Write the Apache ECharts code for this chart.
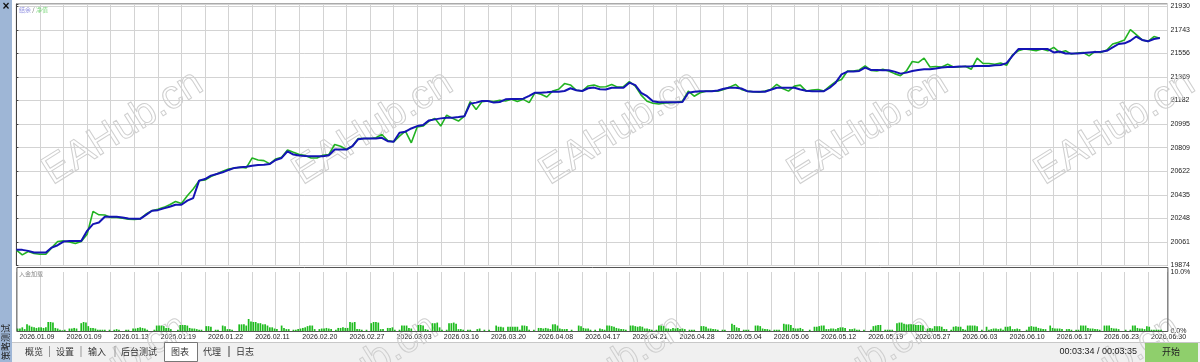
<!DOCTYPE html>
<html><head><meta charset="utf-8">
<script src="https://cdn.jsdelivr.net/npm/echarts@6/dist/echarts.min.js"></script>
<style>html,body{margin:0;padding:0;background:#fff;}#c{width:1200px;height:362px;}</style>
</head><body><div id="c"></div>
<script>
// ---- data ----
const axisMin = 19874;
const axisMax = 21930;
const dateLabels = ['2026.01.09','2026.01.09','2026.01.13','2026.01.19','2026.01.22','2026.02.11','2026.02.20','2026.02.27','2026.03.03','2026.03.16','2026.03.20','2026.04.08','2026.04.17','2026.04.21','2026.04.28','2026.05.04','2026.05.06','2026.05.12','2026.05.19','2026.05.27','2026.06.03','2026.06.10','2026.06.17','2026.06.23','2026.06.30'];
const balance = [
19998,19998,19990,19977,19977,19977,20016,20035,20064,20069,20069,20069,20149,20202,20215,20260,20260,20260,20255,20247,
20244,20244,20276,20308,20313,20327,20340,20356,20356,20388,20409,20547,20560,20587,20600,20613,20632,20648,20653,20658,
20666,20672,20674,20680,20711,20727,20780,20754,20746,20743,20741,20741,20741,20749,20794,20794,20794,20820,20876,20881,
20881,20881,20887,20860,20855,20927,20935,20961,20980,20988,21025,21033,21041,21046,21046,21051,21057,21158,21166,21179,
21179,21166,21171,21192,21195,21195,21197,21219,21245,21245,21248,21253,21253,21258,21280,21264,21258,21280,21285,21272,
21270,21284,21284,21284,21324,21305,21244,21217,21177,21169,21169,21169,21169,21171,21244,21252,21257,21257,21257,21262,
21276,21284,21284,21278,21257,21252,21252,21252,21268,21284,21284,21284,21284,21270,21260,21257,21257,21257,21284,21324,
21390,21412,21412,21417,21444,21425,21425,21422,21422,21412,21396,21404,21417,21425,21430,21430,21436,21444,21449,21449,
21452,21452,21454,21457,21457,21457,21462,21465,21479,21537,21591,21591,21591,21591,21591,21591,21564,21572,21556,21556,
21556,21559,21564,21567,21569,21577,21604,21631,21636,21657,21690,21663,21652,21671,21679];
const equity = [
19995,19958,19985,19969,19963,19963,20016,20064,20069,20061,20048,20064,20122,20303,20276,20274,20255,20255,20250,20242,
20239,20244,20282,20308,20321,20335,20356,20382,20366,20427,20481,20547,20552,20579,20600,20621,20640,20648,20653,20648,
20727,20711,20706,20680,20719,20733,20791,20772,20754,20746,20727,20727,20749,20754,20834,20820,20794,20820,20881,20881,
20881,20887,20913,20865,20855,20900,20940,20847,20972,20980,21020,21041,20980,21067,21041,21020,21059,21174,21112,21174,
21179,21174,21184,21179,21192,21174,21192,21166,21245,21232,21211,21258,21272,21317,21306,21264,21258,21298,21306,21290,
21292,21310,21289,21292,21332,21297,21225,21177,21161,21155,21163,21166,21169,21177,21257,21217,21244,21257,21257,21257,
21270,21289,21310,21270,21257,21252,21249,21257,21270,21310,21278,21257,21297,21305,21257,21265,21270,21257,21297,21332,
21350,21417,21417,21425,21457,21422,21417,21430,21417,21396,21380,21417,21492,21484,21519,21449,21452,21449,21470,21449,
21449,21454,21430,21519,21476,21476,21470,21481,21462,21545,21577,21591,21585,21577,21591,21577,21604,21564,21577,21551,
21559,21564,21537,21572,21564,21583,21631,21644,21663,21745,21705,21663,21652,21690,21676];
const loadPct = [
0.5,0.5,0.7,0.4,1.2,1.0,0.8,0.7,0.6,0.7, 0.7,0.6,0.7,1.6,1.6,1.5,0.6,0.5,0.3,0.2,
0.3,0,0.5,0.5,0.6,0.5,0,1.4,1.6,1.5, 0.9,0.6,0.6,0.5,0.3,0.3,0.3,0.3,0,0.3,
0,0.3,0.4,0.3,0,0,0.3,0.3,0,0.5, 0.5,0.6,0.7,0.6,0.5,0.3,0,0,0.3,1.0,
1.0,1.0,0.9,0.6,0.6,0.4,0,0,0.3,1.1, 1.1,1.1,1.0,0.6,0.5,0.5,0.4,0.3,0.3,0,
0.9,0.9,0.8,0,0.3,0.3,0,1.0,0.9,0.4, 0.4,0.3,0,0,1.2,1.2,1.2,1.0,2.1,1.7,
1.6,1.6,1.4,1.4,1.2,1.2,1.0,0.7,0.7,0.5, 0.4,0,1.0,0.6,0.4,0.4,0,0.3,0.3,0.4,
0.5,0.6,0.7,0.9,1.0,1.0,0.4,0,0.4,0.5, 0.5,0.6,0.5,0.4,0,0.3,0.6,0.6,0.7,0.6,
0.6,1.6,1.5,1.6,0.4,0.4,0.3,0,0.3,0, 1.4,1.6,1.6,1.5,0.4,0.4,0,0.6,0.6,0.7,
0.3,0,0.3,1.0,1.0,1.0,0.6,0.5,0,0, 1.1,1.1,1.0,0.4,0.3,0,1.4,1.4,1.5,0.7,
0.3,0,0.3,1.4,1.4,1.5,1.3,0.4,0.4,0.3, 0,0.3,0.3,0,0,0.4,0.5,0,0.3,0,
0.3,0,0,1.0,0.8,0.8,0.7,0,0.8,0.8, 0.8,0.8,0.8,0.3,1.0,1.0,0.9,0.3,0,0.3,
0,0.6,0.6,0.5,0.6,0.5,0.4,1.2,1.2,1.0, 0.5,0.4,0.4,0.4,0,0.3,0,0,1.0,0.9,
0.6,0.5,0.5,0.3,0,0.3,0,0.5,0.4,0.3, 1.0,1.0,0.9,0.8,0.6,0.5,0.4,0.4,0.3,0,
1.0,1.0,0.9,0.8,0.9,0.8,0.5,0.5,0.4,0.3, 0,0.3,1.0,1.0,0.9,0.5,0.5,0.4,0.6,0.5,
0.6,0.4,0.5,0.4,0,0.3,0.3,0.3,0,0, 0.9,0.9,0.8,0.5,0.5,0.4,0.4,0.3,0,0.3,
0.3,0,0,1.3,1.1,0.7,0.6,0,0.3,0.3, 0.3,0,0,1.0,1.0,0.9,0.5,0.4,0.4,0.3,
0,0.3,0.3,0.3,0,1.3,1.2,1.2,1.1,0.6, 0.5,0.5,0.6,0.4,0,0,0.3,0,0.8,0.8,
0.9,1.0,1.0,0.4,0.4,0.5,0.5,0.4,0.6,0.7, 0.7,0.6,0,0.4,0.4,0.5,0.3,0.3,0,0.3,
0,0,0.3,0.9,1.0,1.1,1.1,0,0.3,0.3, 0.3,0.3,0,1.4,1.5,1.5,1.3,1.2,1.2,1.2,
1.2,1.1,1.1,1.1,1.0,0,0.5,0.6,0.5,0.9, 0.9,0.9,0.8,0.4,0.4,0,0.3,0.8,0.9,0.8,
0.8,0.4,0.3,1.0,1.0,1.0,1.0,0.9,0,0.3, 0,0.8,0.3,0.4,0.5,0.5,0.4,0.5,0.3,0.8,
0.8,0.9,0.4,0.4,0.5,0.4,0,0,0.3,0.8, 0.9,0.8,0.8,0.6,0.5,0.4,0.4,0,1.0,0.6,
0.5,0.5,0.5,0.4,0,0.4,0.4,0.3,0,0.3, 0.3,1.0,1.0,1.0,0.6,0.5,0.5,0.4,0.4,0.3,
0,1.0,1.0,1.0,0.6,0.5,0.5,0.4,0,0, 0.3,0,0.3,1.0,1.0,0.6,0.5,0.5,0.4,0.9,
0.8,0.3,0.3,0.3,0.3,0.3,0,0];
const tabs = ['概览','设置','输入','后台测试','图表','代理','日志'];

// ---- chart ----
const span = axisMax - axisMin;
const step = span / 11;
const topMax = span + 2.3 * span / 259.2;
const xMax = 195.3;
const LEFT = 16.4, RIGHT = 32.5;
const grey = '#d3d3d3';
const small = 'Liberation Sans, Arial, sans-serif';
const cjk = 'Noto Sans CJK SC, sans-serif';

const chart = echarts.init(document.getElementById('c'), null, {renderer:'canvas'});

const graphics = [];
graphics.push({type:'rect', shape:{x:0,y:0,width:12,height:362}, style:{fill:'#9eb6d6'}, z:0});
graphics.push({type:'rect', shape:{x:12,y:342,width:1188,height:20}, style:{fill:'#f0f0f0'}, z:0});
graphics.push({type:'line', shape:{x1:12,y1:342.5,x2:1200,y2:342.5}, style:{stroke:'#c8c8c8',lineWidth:1}, z:0});
graphics.push({type:'text', x:6, y:7, style:{text:'×', fontSize:12, fontWeight:'bold', fill:'#111', align:'center', verticalAlign:'middle', fontFamily:small}, z:5});
graphics.push({type:'text', x:6, y:342, rotation:Math.PI/2, style:{text:'策略测试', fontSize:9, fill:'#222', align:'center', verticalAlign:'middle', fontFamily:cjk}, z:5});
graphics.push({type:'rect', shape:{x:LEFT+0.5,y:267.5,width:1151,height:64}, style:{fill:'none', stroke:'#555', lineWidth:1}, z:4});
graphics.push({type:'text', x:19, y:10, style:{rich:{a:{fill:'#8e8ee0'},b:{fill:'#555'},c:{fill:'#7fd67f'}}, text:'{a|结余} {b|/} {c|净值}', fontSize:6, fontFamily:cjk, verticalAlign:'middle'}, z:5});
graphics.push({type:'text', x:19, y:274, style:{text:'入金加载', fontSize:6, fill:'#888', fontFamily:cjk, verticalAlign:'middle'}, z:5});
// tabs
const tabX = [34, 65, 97, 139, 180, 212, 245];
tabs.forEach((t,i)=>{
  if (i===4) graphics.push({type:'rect', shape:{x:164.5,y:342.5,width:33,height:19}, style:{fill:'#fff', stroke:'#777', lineWidth:1}, z:3});
  graphics.push({type:'text', x:tabX[i], y:351.5, style:{text:t, fontSize:9, fill:'#333', align:'center', verticalAlign:'middle', fontFamily:cjk}, z:5});
  if (i<tabs.length-1 && i!==3 && i!==4) graphics.push({type:'line', shape:{x1:(tabX[i]+tabX[i+1])/2+ (i===2?-3:0), y1:346, x2:(tabX[i]+tabX[i+1])/2+(i===2?-3:0), y2:357}, style:{stroke:'#999', lineWidth:1}, z:5});
});
graphics.push({type:'line', shape:{x1:229.5,y1:346,x2:229.5,y2:357}, style:{stroke:'#999', lineWidth:1}, z:5});
graphics.push({type:'text', x:1137, y:351.5, style:{text:'00:03:34 / 00:03:35', fontSize:9, fill:'#222', align:'right', verticalAlign:'middle', fontFamily:small}, z:5});
graphics.push({type:'rect', shape:{x:1145,y:343,width:53,height:19}, style:{fill:'#8fcf6c'}, z:3});
graphics.push({type:'text', x:1171, y:352, style:{text:'开始', fontSize:9, fill:'#222', align:'center', verticalAlign:'middle', fontFamily:cjk}, z:5});
// watermarks
const wmX = [123, 373, 620, 868, 1115];
wmX.forEach(cx=>{
  [[cx,128],[cx-15,372]].forEach(([x,y])=>{
    graphics.push({type:'text', x:x, y:y, rotation:0.56, silent:true, style:{text:'EAHub.cn', fontSize:40, fontFamily:small, fill:'rgba(255,255,255,0)', stroke:'#cfcfcf', lineWidth:1, align:'center', verticalAlign:'middle'}, z:1});
  });
});

const option = {
  animation:false,
  backgroundColor:'#ffffff',
  grid:[
    {left:LEFT, right:RIGHT, top:4, height:261.5, show:true, borderColor:'#555', borderWidth:1, backgroundColor:'transparent', z:0},
    {left:LEFT, right:RIGHT, top:272, height:59.5, show:false}
  ],
  xAxis:[
    {gridIndex:0, type:'value', min:0, max:xMax, interval:4, axisLine:{show:false}, axisTick:{show:false}, axisLabel:{show:false},
     splitLine:{show:true, lineStyle:{color:grey, width:1}}},
    {gridIndex:1, type:'value', min:0, max:xMax, interval:4, axisLine:{show:false}, axisTick:{show:false},
     axisLabel:{show:true, fontSize:7, fontFamily:small, color:'#222', margin:2, align:'left', padding:[0,0,0,3],
       formatter:(v)=>{ if (Math.abs(v%8)>1e-6) return ''; const k=Math.round(v/8); return dateLabels[k]||''; }},
     splitLine:{show:true, lineStyle:{color:grey, width:1}}}
  ],
  yAxis:[
    {gridIndex:0, type:'value', position:'right', min:0, max:topMax, interval:step,
     axisLine:{show:true, lineStyle:{color:'#444'}}, axisTick:{show:true, length:2, lineStyle:{color:'#444'}},
     axisLabel:{fontSize:7, fontFamily:small, color:'#222', margin:3,
       formatter:(v)=>{ const r=v/step; if (Math.abs(r-Math.round(r))>1e-6) return ''; return String(Math.round(v+axisMin)); }},
     splitLine:{show:true, lineStyle:{color:grey, width:1}}},
    {gridIndex:1, type:'value', position:'right', min:0, max:10, interval:10,
     axisLine:{show:false}, axisTick:{show:false}, splitLine:{show:false},
     axisLabel:{fontSize:7, fontFamily:small, color:'#222', margin:3, formatter:(v)=>v.toFixed(1)+'%'}}
  ],
  graphic:{elements:graphics},
  series:[
    {type:'bar', xAxisIndex:1, yAxisIndex:1, barWidth:1.7, itemStyle:{color:'#1dbb1d'}, z:2,
     data: loadPct.map((v,k)=>[0.2+0.4*k, v])},
    {type:'line', name:'净值', xAxisIndex:0, yAxisIndex:0, showSymbol:false, symbol:'none', z:3,
     lineStyle:{color:'#22b322', width:1.6}, data: equity.map((v,i)=>[i, v-axisMin])},
    {type:'line', name:'结余', xAxisIndex:0, yAxisIndex:0, showSymbol:false, symbol:'none', z:4,
     lineStyle:{color:'#1414b4', width:2}, data: balance.map((v,i)=>[i, v-axisMin])}
  ]
};
chart.setOption(option);
</script>
</body></html>
